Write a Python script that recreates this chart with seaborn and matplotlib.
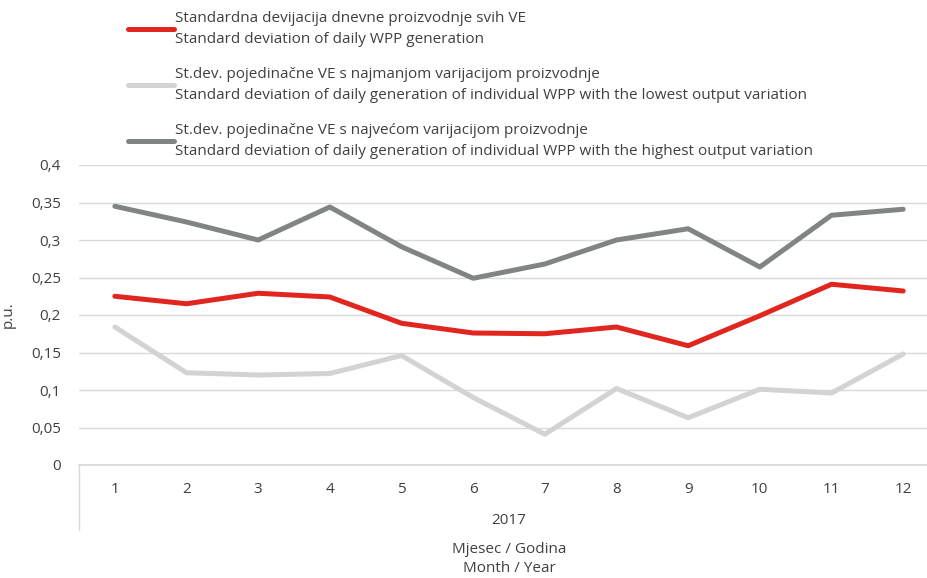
import matplotlib
matplotlib.use("Agg")
import matplotlib.pyplot as plt
import seaborn as sns
import pandas as pd
from matplotlib.lines import Line2D

months = [1, 2, 3, 4, 5, 6, 7, 8, 9, 10, 11, 12]
all_wpp = [0.225, 0.215, 0.229, 0.224, 0.189, 0.176, 0.175, 0.184, 0.159, 0.199, 0.241, 0.232]
lowest = [0.184, 0.123, 0.120, 0.122, 0.146, 0.090, 0.041, 0.102, 0.063, 0.101, 0.096, 0.148]
highest = [0.345, 0.324, 0.300, 0.344, 0.291, 0.249, 0.268, 0.300, 0.315, 0.264, 0.333, 0.341]
labels = [
    "Standardna devijacija dnevne proizvodnje svih VE\nStandard deviation of daily WPP generation",
    "St.dev. pojedinačne VE s najmanjom varijacijom proizvodnje\nStandard deviation of daily generation of individual WPP with the lowest output variation",
    "St.dev. pojedinačne VE s najvećom varijacijom proizvodnje\nStandard deviation of daily generation of individual WPP with the highest output variation",
]
colors = ["#e0261e", "#d3d3d3", "#818485"]
y_ticks = [0, 0.05, 0.1, 0.15, 0.2, 0.25, 0.3, 0.35, 0.4]
y_tick_labels = ["0", "0,05", "0,1", "0,15", "0,2", "0,25", "0,3", "0,35", "0,4"]

sns.set_theme(style="white")
plt.rcParams['font.family'] = ['Open Sans', 'DejaVu Sans']
txt = "#404040"
fs = 11

df = pd.concat([
    pd.DataFrame({"month": months, "value": vals, "series": lab})
    for vals, lab in zip([all_wpp, lowest, highest], labels)
])

W, H = 928, 578
fig = plt.figure(figsize=(W / 100, H / 100), dpi=100)
L, R, T, B = 79, 939, 165, 465
ax = fig.add_axes([L / W, 1 - B / H, (R - L) / W, (B - T) / H])

sns.lineplot(data=df, x="month", y="value", hue="series", palette=dict(zip(labels, colors)),
             linewidth=3.6, ax=ax, legend=False)
ax.set_xlim(0.5, 12.5)
ax.set_ylim(0, 0.4)
ax.set_yticks(y_ticks)
ax.set_yticklabels(y_tick_labels, fontsize=fs, color=txt)
ax.set_xticks(months)
ax.set_xticklabels([str(m) for m in months], fontsize=fs, color=txt)
ax.tick_params(axis="y", length=0, pad=13)
ax.tick_params(axis="x", length=0, pad=12)
ax.grid(axis="y", color="#d9d9d9", linewidth=1)
ax.set_axisbelow(True)
for s in ["top", "right", "left"]:
    ax.spines[s].set_visible(False)
ax.spines["bottom"].set_color("#d9d9d9")
ax.set_xlabel("")
ax.set_ylabel("p.u.", fontsize=fs, color=txt)
ax.yaxis.set_label_coords((16 - L) / (R - L), 0.5)

# multi-level category axis
ax.plot([0, 0], [0, -65 / (B - T)], transform=ax.transAxes, color="#d9d9d9", lw=1, clip_on=False)
ax.text((509 - L) / (R - L), -(521 - B) / (B - T), "2017", transform=ax.transAxes,
        ha="center", va="center", fontsize=fs, color=txt)
fig.text(509 / W, 1 - 559 / H, "Mjesec / Godina\nMonth / Year", ha="center", va="center",
         fontsize=fs, color=txt, linespacing=1.35)

handles = [Line2D([0], [0], color=c, lw=3.6) for c in colors]
leg = fig.legend(handles, labels, loc="upper left", bbox_to_anchor=(122 / W, 1 - 5 / H),
                 frameon=False, fontsize=fs, labelcolor=txt, handlelength=3.0, handletextpad=0.1,
                 labelspacing=1.35, borderaxespad=0)
for t in leg.get_texts():
    t.set_linespacing(1.5)

fig.savefig("out.png", dpi=100)
